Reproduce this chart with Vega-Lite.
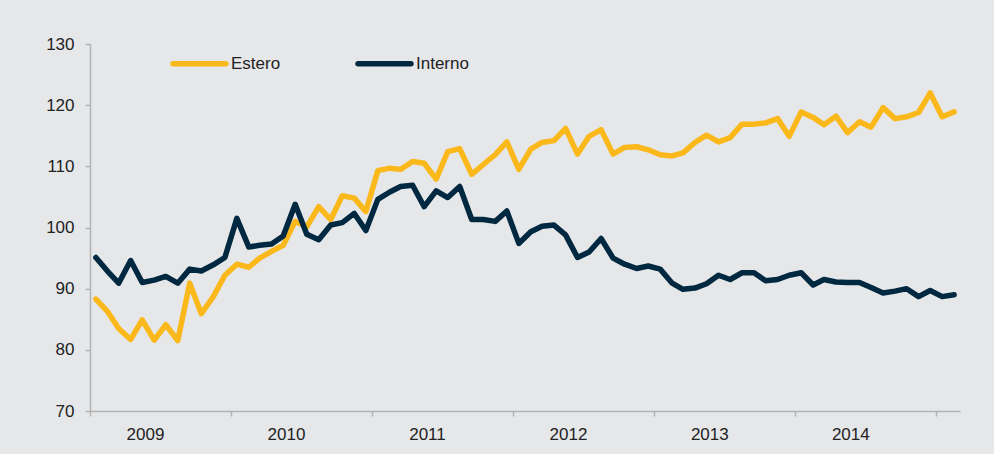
{
  "$schema": "https://vega.github.io/schema/vega-lite/v6.json",
  "width": 870,
  "height": 367,
  "autosize": {"type": "none"},
  "padding": {"left": 90, "top": 44, "right": 34, "bottom": 43},
  "background": "#E6E7E9",
  "config": {
    "view": {"stroke": null},
    "font": "Liberation Sans",
    "axis": {"labelFont": "Liberation Sans", "labelFontSize": 17, "labelColor": "#222222", "grid": false},
    "legend": {"labelFont": "Liberation Sans", "labelFontSize": 17, "labelColor": "#222222"}
  },
  "datasets": {
    "series": [
      {"date": "2009-01-01", "series": "Estero", "value": 88.3},
      {"date": "2009-02-01", "series": "Estero", "value": 86.2},
      {"date": "2009-03-01", "series": "Estero", "value": 83.5},
      {"date": "2009-04-01", "series": "Estero", "value": 81.7},
      {"date": "2009-05-01", "series": "Estero", "value": 84.9},
      {"date": "2009-06-01", "series": "Estero", "value": 81.6},
      {"date": "2009-07-01", "series": "Estero", "value": 84.1},
      {"date": "2009-08-01", "series": "Estero", "value": 81.5},
      {"date": "2009-09-01", "series": "Estero", "value": 90.9},
      {"date": "2009-10-01", "series": "Estero", "value": 85.9},
      {"date": "2009-11-01", "series": "Estero", "value": 88.7},
      {"date": "2009-12-01", "series": "Estero", "value": 92.2},
      {"date": "2010-01-01", "series": "Estero", "value": 94.0},
      {"date": "2010-02-01", "series": "Estero", "value": 93.5},
      {"date": "2010-03-01", "series": "Estero", "value": 95.0},
      {"date": "2010-04-01", "series": "Estero", "value": 96.1},
      {"date": "2010-05-01", "series": "Estero", "value": 97.1},
      {"date": "2010-06-01", "series": "Estero", "value": 101.0},
      {"date": "2010-07-01", "series": "Estero", "value": 100.1},
      {"date": "2010-08-01", "series": "Estero", "value": 103.4},
      {"date": "2010-09-01", "series": "Estero", "value": 101.3},
      {"date": "2010-10-01", "series": "Estero", "value": 105.2},
      {"date": "2010-11-01", "series": "Estero", "value": 104.8},
      {"date": "2010-12-01", "series": "Estero", "value": 102.6},
      {"date": "2011-01-01", "series": "Estero", "value": 109.3},
      {"date": "2011-02-01", "series": "Estero", "value": 109.7},
      {"date": "2011-03-01", "series": "Estero", "value": 109.5},
      {"date": "2011-04-01", "series": "Estero", "value": 110.8},
      {"date": "2011-05-01", "series": "Estero", "value": 110.5},
      {"date": "2011-06-01", "series": "Estero", "value": 107.9},
      {"date": "2011-07-01", "series": "Estero", "value": 112.4},
      {"date": "2011-08-01", "series": "Estero", "value": 112.9},
      {"date": "2011-09-01", "series": "Estero", "value": 108.7},
      {"date": "2011-10-01", "series": "Estero", "value": 110.3},
      {"date": "2011-11-01", "series": "Estero", "value": 111.9},
      {"date": "2011-12-01", "series": "Estero", "value": 114.0},
      {"date": "2012-01-01", "series": "Estero", "value": 109.5},
      {"date": "2012-02-01", "series": "Estero", "value": 112.8},
      {"date": "2012-03-01", "series": "Estero", "value": 113.9},
      {"date": "2012-04-01", "series": "Estero", "value": 114.2},
      {"date": "2012-05-01", "series": "Estero", "value": 116.2},
      {"date": "2012-06-01", "series": "Estero", "value": 112.0},
      {"date": "2012-07-01", "series": "Estero", "value": 114.9},
      {"date": "2012-08-01", "series": "Estero", "value": 116.0},
      {"date": "2012-09-01", "series": "Estero", "value": 112.0},
      {"date": "2012-10-01", "series": "Estero", "value": 113.1},
      {"date": "2012-11-01", "series": "Estero", "value": 113.2},
      {"date": "2012-12-01", "series": "Estero", "value": 112.7},
      {"date": "2013-01-01", "series": "Estero", "value": 111.9},
      {"date": "2013-02-01", "series": "Estero", "value": 111.7},
      {"date": "2013-03-01", "series": "Estero", "value": 112.2},
      {"date": "2013-04-01", "series": "Estero", "value": 113.9},
      {"date": "2013-05-01", "series": "Estero", "value": 115.1},
      {"date": "2013-06-01", "series": "Estero", "value": 114.0},
      {"date": "2013-07-01", "series": "Estero", "value": 114.7},
      {"date": "2013-08-01", "series": "Estero", "value": 116.9},
      {"date": "2013-09-01", "series": "Estero", "value": 116.9},
      {"date": "2013-10-01", "series": "Estero", "value": 117.1},
      {"date": "2013-11-01", "series": "Estero", "value": 117.8},
      {"date": "2013-12-01", "series": "Estero", "value": 114.9},
      {"date": "2014-01-01", "series": "Estero", "value": 118.9},
      {"date": "2014-02-01", "series": "Estero", "value": 118.0},
      {"date": "2014-03-01", "series": "Estero", "value": 116.8},
      {"date": "2014-04-01", "series": "Estero", "value": 118.2},
      {"date": "2014-05-01", "series": "Estero", "value": 115.5},
      {"date": "2014-06-01", "series": "Estero", "value": 117.3},
      {"date": "2014-07-01", "series": "Estero", "value": 116.4},
      {"date": "2014-08-01", "series": "Estero", "value": 119.6},
      {"date": "2014-09-01", "series": "Estero", "value": 117.8},
      {"date": "2014-10-01", "series": "Estero", "value": 118.1},
      {"date": "2014-11-01", "series": "Estero", "value": 118.8},
      {"date": "2014-12-01", "series": "Estero", "value": 122.0},
      {"date": "2015-01-01", "series": "Estero", "value": 118.1},
      {"date": "2015-02-01", "series": "Estero", "value": 118.9},
      {"date": "2009-01-01", "series": "Interno", "value": 95.1},
      {"date": "2009-02-01", "series": "Interno", "value": 92.8},
      {"date": "2009-03-01", "series": "Interno", "value": 90.9},
      {"date": "2009-04-01", "series": "Interno", "value": 94.6},
      {"date": "2009-05-01", "series": "Interno", "value": 91.0},
      {"date": "2009-06-01", "series": "Interno", "value": 91.4},
      {"date": "2009-07-01", "series": "Interno", "value": 92.0},
      {"date": "2009-08-01", "series": "Interno", "value": 90.9},
      {"date": "2009-09-01", "series": "Interno", "value": 93.2},
      {"date": "2009-10-01", "series": "Interno", "value": 92.9},
      {"date": "2009-11-01", "series": "Interno", "value": 93.9},
      {"date": "2009-12-01", "series": "Interno", "value": 95.1},
      {"date": "2010-01-01", "series": "Interno", "value": 101.5},
      {"date": "2010-02-01", "series": "Interno", "value": 96.8},
      {"date": "2010-03-01", "series": "Interno", "value": 97.1},
      {"date": "2010-04-01", "series": "Interno", "value": 97.3},
      {"date": "2010-05-01", "series": "Interno", "value": 98.6},
      {"date": "2010-06-01", "series": "Interno", "value": 103.8},
      {"date": "2010-07-01", "series": "Interno", "value": 98.9},
      {"date": "2010-08-01", "series": "Interno", "value": 98.0},
      {"date": "2010-09-01", "series": "Interno", "value": 100.4},
      {"date": "2010-10-01", "series": "Interno", "value": 100.8},
      {"date": "2010-11-01", "series": "Interno", "value": 102.3},
      {"date": "2010-12-01", "series": "Interno", "value": 99.5},
      {"date": "2011-01-01", "series": "Interno", "value": 104.6},
      {"date": "2011-02-01", "series": "Interno", "value": 105.8},
      {"date": "2011-03-01", "series": "Interno", "value": 106.7},
      {"date": "2011-04-01", "series": "Interno", "value": 106.9},
      {"date": "2011-05-01", "series": "Interno", "value": 103.4},
      {"date": "2011-06-01", "series": "Interno", "value": 106.0},
      {"date": "2011-07-01", "series": "Interno", "value": 104.9},
      {"date": "2011-08-01", "series": "Interno", "value": 106.7},
      {"date": "2011-09-01", "series": "Interno", "value": 101.3},
      {"date": "2011-10-01", "series": "Interno", "value": 101.3},
      {"date": "2011-11-01", "series": "Interno", "value": 101.0},
      {"date": "2011-12-01", "series": "Interno", "value": 102.7},
      {"date": "2012-01-01", "series": "Interno", "value": 97.4},
      {"date": "2012-02-01", "series": "Interno", "value": 99.3},
      {"date": "2012-03-01", "series": "Interno", "value": 100.2},
      {"date": "2012-04-01", "series": "Interno", "value": 100.4},
      {"date": "2012-05-01", "series": "Interno", "value": 98.8},
      {"date": "2012-06-01", "series": "Interno", "value": 95.1},
      {"date": "2012-07-01", "series": "Interno", "value": 96.0},
      {"date": "2012-08-01", "series": "Interno", "value": 98.2},
      {"date": "2012-09-01", "series": "Interno", "value": 95.0},
      {"date": "2012-10-01", "series": "Interno", "value": 94.0},
      {"date": "2012-11-01", "series": "Interno", "value": 93.3},
      {"date": "2012-12-01", "series": "Interno", "value": 93.7},
      {"date": "2013-01-01", "series": "Interno", "value": 93.2},
      {"date": "2013-02-01", "series": "Interno", "value": 90.9},
      {"date": "2013-03-01", "series": "Interno", "value": 89.9},
      {"date": "2013-04-01", "series": "Interno", "value": 90.1},
      {"date": "2013-05-01", "series": "Interno", "value": 90.8},
      {"date": "2013-06-01", "series": "Interno", "value": 92.2},
      {"date": "2013-07-01", "series": "Interno", "value": 91.5},
      {"date": "2013-08-01", "series": "Interno", "value": 92.6},
      {"date": "2013-09-01", "series": "Interno", "value": 92.6},
      {"date": "2013-10-01", "series": "Interno", "value": 91.3},
      {"date": "2013-11-01", "series": "Interno", "value": 91.5},
      {"date": "2013-12-01", "series": "Interno", "value": 92.2},
      {"date": "2014-01-01", "series": "Interno", "value": 92.6},
      {"date": "2014-02-01", "series": "Interno", "value": 90.6},
      {"date": "2014-03-01", "series": "Interno", "value": 91.5},
      {"date": "2014-04-01", "series": "Interno", "value": 91.1},
      {"date": "2014-05-01", "series": "Interno", "value": 91.0},
      {"date": "2014-06-01", "series": "Interno", "value": 91.0},
      {"date": "2014-07-01", "series": "Interno", "value": 90.2},
      {"date": "2014-08-01", "series": "Interno", "value": 89.3},
      {"date": "2014-09-01", "series": "Interno", "value": 89.6},
      {"date": "2014-10-01", "series": "Interno", "value": 90.0},
      {"date": "2014-11-01", "series": "Interno", "value": 88.7},
      {"date": "2014-12-01", "series": "Interno", "value": 89.7},
      {"date": "2015-01-01", "series": "Interno", "value": 88.7},
      {"date": "2015-02-01", "series": "Interno", "value": 89.0}
    ]
  },
  "data": {"name": "series"},
  "mark": {"type": "line", "strokeWidth": 5.5, "strokeCap": "round", "strokeJoin": "round"},
  "encoding": {
    "x": {
      "field": "date",
      "type": "temporal",
      "title": null,
      "scale": {
        "type": "utc",
        "domain": [
          {"year": 2008, "month": 12, "date": 16, "hours": 19, "utc": true},
          {"year": 2015, "month": 2, "date": 16, "hours": 5, "utc": true}
        ]
      },
      "axis": {
        "values": [
          {"year": 2008, "month": 12, "date": 16, "hours": 19, "utc": true},
          {"year": 2009, "month": 12, "date": 16, "hours": 19, "utc": true},
          {"year": 2010, "month": 12, "date": 16, "hours": 19, "utc": true},
          {"year": 2011, "month": 12, "date": 16, "hours": 19, "utc": true},
          {"year": 2012, "month": 12, "date": 16, "hours": 19, "utc": true},
          {"year": 2013, "month": 12, "date": 16, "hours": 19, "utc": true},
          {"year": 2014, "month": 12, "date": 16, "hours": 19, "utc": true}
        ],
        "labelExpr": "utcyear(datum.value) >= 2014 ? '' : '' + (utcyear(datum.value) + 1)",
        "labelOffset": 55,
        "labelFlush": false,
        "labelOverlap": false,
        "labelBound": false,
        "labelAlign": "center",
        "labelPadding": 10,
        "tickSize": 5,
        "tickWidth": 1.5,
        "tickColor": "#B2B2B2",
        "domainColor": "#B2B2B2",
        "domainWidth": 1.5
      }
    },
    "y": {
      "field": "value",
      "type": "quantitative",
      "title": null,
      "scale": {"domain": [70, 130], "nice": false, "zero": false},
      "axis": {
        "values": [70, 80, 90, 100, 110, 120, 130],
        "tickSize": 5,
        "tickWidth": 1.5,
        "tickColor": "#B2B2B2",
        "domainColor": "#B2B2B2",
        "domainWidth": 1.5,
        "labelPadding": 11
      }
    },
    "color": {
      "field": "series",
      "type": "nominal",
      "title": null,
      "scale": {"domain": ["Estero", "Interno"], "range": ["#FBB81B", "#002840"]},
      "legend": {
        "orient": "none",
        "legendX": 80,
        "legendY": -10,
        "direction": "horizontal",
        "symbolType": "stroke",
        "symbolSize": 2800,
        "symbolStrokeWidth": 5.5,
        "labelOffset": 2,
        "columnPadding": 66,
        "encode": {"symbols": {"update": {"strokeCap": {"value": "round"}}}}
      }
    }
  }
}
